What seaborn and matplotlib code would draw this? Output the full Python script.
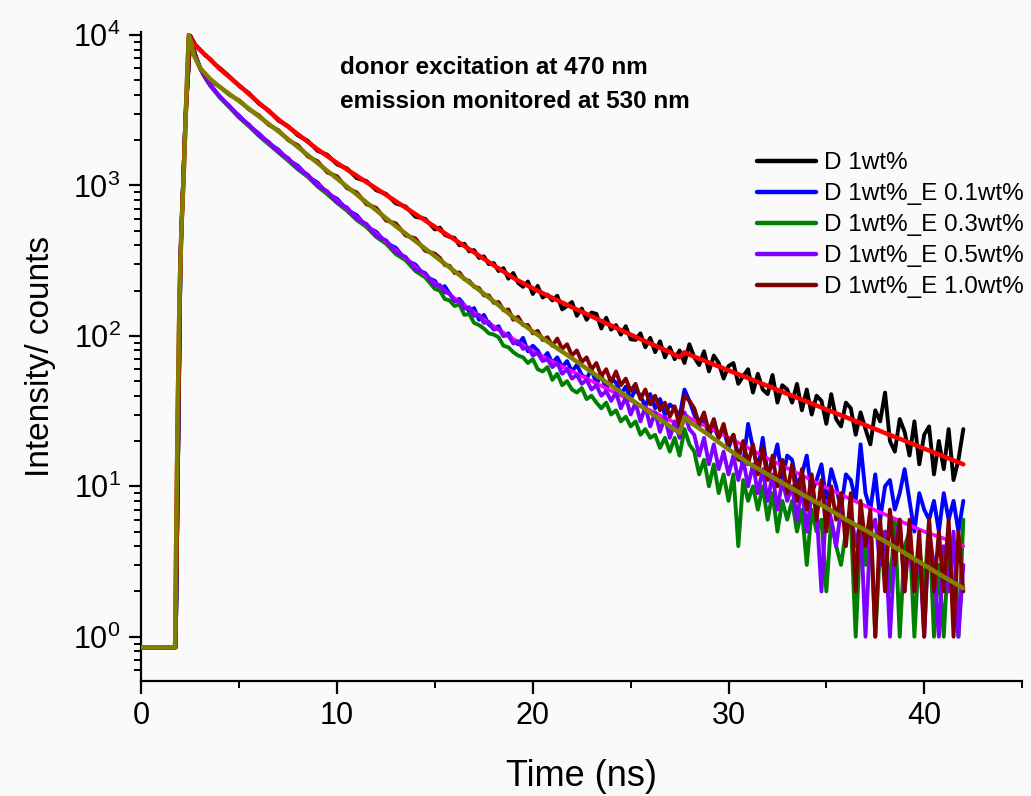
import numpy as np
import matplotlib
matplotlib.use("Agg")
import matplotlib.pyplot as plt
import seaborn as sns
from matplotlib.ticker import LogLocator, MultipleLocator, NullFormatter

# ---------------- data ----------------
t_data = np.concatenate([[0.0, 1.5],
                         np.arange(1.75, 4.01, 0.25),
                         np.arange(4.5, 15.01, 0.5),
                         np.arange(15.25, 42.01, 0.25)])

d_black = [0.85, 0.85, 0.85, 340, 2700, 9900, 8650, 8000, 7350, 6950, 6400, 6050,
           5300, 4580, 4110, 3500, 3160, 2700, 2480, 2150, 1980, 1700, 1600, 1380,
           1300, 1120, 1070, 930, 880, 760, 725, 620, 600, 510,
           525, 470, 455, 448, 400, 410, 365, 372, 330, 338, 300, 305,
           270, 282, 240, 262, 225, 212, 230, 190, 215, 180, 188, 172,
           185, 150, 158, 168, 136, 152, 128, 143, 140, 112, 132, 110,
           118, 102, 116, 95, 94, 104, 84, 97, 78, 92, 72, 84,
           70, 80, 66, 88, 72, 64, 79, 58, 74, 66, 52, 63,
           66, 48, 54, 60, 42, 56, 44, 41, 55, 36, 47, 44,
           36, 48, 32, 44, 30, 40, 37, 26, 41, 28, 25, 36,
           33, 22, 31, 24, 19, 32, 27, 42, 20, 17, 28, 23,
           16, 27, 14, 22, 25, 12, 20, 13, 24, 11, 15, 24]

d_blue = [0.85, 0.85, 0.85, 370, 2950, 9850, 7450, 6050, 5300, 4700, 4300, 3920,
          3330, 2910, 2490, 2220, 1910, 1730, 1480, 1350, 1150, 1045, 885, 815,
          690, 635, 532, 492, 415, 385, 320, 298, 248, 232,
          205, 214, 190, 172, 176, 160, 146, 153, 128, 138, 119, 112,
          116, 100, 104, 92, 88, 97, 79, 86, 80, 70, 77, 66,
          72, 62, 68, 58, 64, 55, 52, 60, 48, 55, 44, 52,
          49, 41, 46, 38, 44, 40, 34, 41, 33, 38, 30, 35,
          33, 29, 44, 37, 30, 25, 28, 22, 25, 21, 24, 18,
          22, 16, 14, 26, 18, 13, 21, 12, 14, 19, 11, 16,
          15, 10, 12, 16, 9, 11, 14, 8, 13, 10, 7, 12,
          11, 8, 19, 9, 7, 12, 6, 10, 11, 7, 9, 13,
          8, 5, 9, 7, 6, 8, 5, 9, 6, 8, 5, 8]

d_green = [0.85, 0.85, 0.85, 355, 2850, 9750, 7350, 5950, 5200, 4630, 4220, 3850,
           3300, 2820, 2470, 2140, 1880, 1660, 1460, 1280, 1140, 985, 875, 765,
           680, 590, 530, 455, 410, 350, 318, 270, 245, 205,
           200, 176, 172, 158, 162, 138, 140, 122, 118, 112, 104, 102,
           98, 86, 84, 78, 74, 72, 66, 70, 60, 58, 62, 51,
           56, 47, 50, 44, 42, 45, 38, 40, 36, 33, 36, 30,
           32, 27, 29, 25, 27, 22, 24, 21, 22, 18, 21, 17,
           21, 16, 24, 19, 17, 12, 15, 10, 14, 9, 12, 8,
           12, 4, 11, 8, 10, 7, 10, 6, 9, 5, 8, 6,
           8, 5, 7, 3, 7, 5, 6, 2, 6, 4, 3, 5,
           6, 1, 5, 3, 6, 1, 4, 5, 2, 6, 1, 4,
           5, 1, 4, 2, 6, 1, 3, 1, 4, 2, 1, 6]

d_purple = [0.85, 0.85, 0.85, 360, 2900, 9800, 7400, 6000, 5250, 4680, 4270, 3890,
            3380, 2850, 2540, 2160, 1950, 1670, 1520, 1290, 1180, 995, 915, 770,
            715, 600, 555, 462, 432, 360, 335, 278, 262, 216,
            218, 195, 192, 170, 172, 152, 155, 136, 138, 122, 124, 110,
            112, 100, 101, 89, 92, 82, 84, 74, 77, 68, 70, 62,
            66, 56, 60, 52, 55, 48, 51, 44, 47, 40, 43, 37,
            42, 33, 39, 30, 36, 27, 34, 25, 31, 23, 29, 21,
            27, 21, 31, 24, 22, 16, 21, 14, 19, 13, 17, 12,
            16, 11, 15, 10, 14, 9, 13, 8, 12, 7, 11, 8,
            10, 6, 10, 5, 9, 7, 2, 8, 6, 4, 7, 5,
            7, 4, 6, 1, 5, 6, 3, 5, 1, 4, 6, 2,
            5, 2, 4, 1, 5, 3, 1, 4, 2, 5, 1, 3]

d_brown = [0.85, 0.85, 0.85, 350, 2800, 9850, 7250, 6050, 5450, 5100, 4750, 4540,
           4000, 3680, 3200, 2930, 2530, 2330, 2000, 1850, 1560, 1450, 1220, 1150,
           960, 900, 750, 710, 585, 560, 465, 445, 368, 352,
           330, 296, 292, 262, 264, 238, 232, 212, 208, 186, 186, 166,
           168, 148, 150, 128, 134, 118, 118, 104, 108, 94, 98, 86,
           96, 82, 88, 74, 80, 67, 72, 60, 66, 54, 60, 49,
           58, 47, 52, 43, 48, 38, 44, 35, 40, 32, 36, 29,
           34, 25, 40, 37, 33, 26, 31, 23, 28, 21, 26, 19,
           22, 15, 20, 14, 19, 12, 18, 11, 16, 10, 15, 9,
           14, 8, 13, 7, 12, 6, 11, 5, 10, 6, 9, 4,
           9, 2, 8, 4, 7, 1, 6, 2, 7, 3, 6, 2,
           6, 2, 5, 1, 6, 2, 5, 2, 6, 1, 5, 2]

t_fit = [0.0, 1.72, 1.78, 1.85, 1.95, 2.05, 2.15, 2.3, 2.42, 2.7, 3.0, 3.5,
         4, 5, 6, 7, 8, 9, 10, 11, 12, 13, 14, 15, 16, 17, 18, 19, 20, 21,
         22, 23, 24, 25, 26, 27, 27.5, 27.75, 28, 29, 30, 31, 32, 33, 34, 35,
         36, 37, 38, 39, 40, 41, 42]

fit_red = [0.85, 0.85, 5, 30, 200, 550, 1100, 4000, 10000, 8700, 7940, 6920,
           5960, 4620, 3550, 2750, 2190, 1740, 1410, 1160, 955, 785, 646, 531,
           437, 359, 295, 243, 207, 179, 155, 135, 117, 102, 89, 78, 72, 78, 75,
           66.5, 59, 52.4, 46.5, 41.2, 36.6, 32.4, 28.8, 25.5, 22.6, 20.1, 17.8,
           15.8, 14.0]

fit_olive = [0.85, 0.85, 5, 30, 200, 550, 1100, 4000, 10000, 7240, 6030, 5130,
             4520, 3630, 2880, 2290, 1800, 1410, 1110, 871, 684, 537, 427, 339,
             269, 214, 170, 133, 107, 87, 71, 57.5, 46.8, 38, 30.9, 25.1, 22.6,
             28.8, 26.9, 21.9, 17.6, 14.3, 12.0, 10.1, 8.5, 7.2, 6.0, 5.1, 4.3,
             3.6, 3.0, 2.5, 2.1]

fit_magenta = [0.85, 0.85, 5, 30, 200, 550, 1100, 4000, 10000, 7410, 6030, 4680,
               3890, 2880, 2190, 1700, 1320, 1020, 794, 617, 479, 372, 288, 224,
               178, 143, 116, 95.5, 79.4, 67.6, 58.2, 50.1, 43.2, 37.2, 32.0,
               27.5, 25.7, 30.2, 28.5, 24.5, 21.1, 18.0, 15.3, 13.2, 11.4, 9.8,
               8.5, 7.4, 6.5, 5.7, 5.0, 4.5, 4.0]

labels = ["D 1wt%", "D 1wt%_E 0.1wt%", "D 1wt%_E 0.3wt%",
          "D 1wt%_E 0.5wt%", "D 1wt%_E 1.0wt%"]

x_ticks = [0, 10, 20, 30, 40]
annotation = "donor excitation at 470 nm\nemission monitored at 530 nm"

# ---------------- styling ----------------
sns.set_style("ticks")
plt.rcParams['font.family'] = ['Liberation Sans', 'DejaVu Sans']
plt.rcParams['mathtext.fontset'] = 'custom'
plt.rcParams['mathtext.rm'] = 'Liberation Sans'
plt.rcParams['text.color'] = 'black'

bg = '#fafafa'
fig = plt.figure(figsize=(10.31, 7.96), dpi=100, facecolor=bg)
ax = fig.add_axes([0.1372, 0.1449, 0.8541, 0.8150])
ax.set_facecolor(bg)

series = [(d_black, '#000000', 2), (d_blue, '#0000ff', 3), (d_green, '#008000', 4),
          (d_purple, '#8000ff', 6), (d_brown, '#800000', 7)]
handles = []
for (vals, col, z), lab in zip(series, labels):
    n = min(len(vals), len(t_data))
    sns.lineplot(x=t_data[:n], y=vals[:n], color=col, lw=2.8, ax=ax,
                 estimator=None, sort=False, label=lab, legend=False, zorder=z)
    handles.append(ax.lines[-1])

sns.lineplot(x=t_fit, y=fit_magenta, color='#ff00ff', lw=2.6, ax=ax,
             estimator=None, sort=False, legend=False, zorder=5)
sns.lineplot(x=t_fit, y=fit_red, color='#ff0000', lw=3.2, ax=ax,
             estimator=None, sort=False, legend=False, zorder=8)
sns.lineplot(x=t_fit, y=fit_olive, color='#808000', lw=3.2, ax=ax,
             estimator=None, sort=False, legend=False, zorder=9)

ax.set_yscale('log')
ax.set_xlim(0, 45)
ax.set_ylim(0.51, 10500)
ax.set_xticks(x_ticks)
ax.xaxis.set_minor_locator(MultipleLocator(5))
ax.yaxis.set_major_locator(LogLocator(base=10, numticks=10))
ax.yaxis.set_minor_locator(LogLocator(base=10, subs=np.arange(2, 10), numticks=20))
ax.yaxis.set_minor_formatter(NullFormatter())

for side in ['top', 'right']:
    ax.spines[side].set_visible(False)
for side in ['left', 'bottom']:
    ax.spines[side].set_linewidth(1.6)
    ax.spines[side].set_color('black')

ax.tick_params(which='major', direction='out', length=9, width=1.6,
               labelsize=22, colors='black', pad=6)
ax.tick_params(which='minor', direction='out', length=5, width=1.4, colors='black')

ax.set_xlabel("Time (ns)", fontsize=26, labelpad=20, color='black')
ax.set_ylabel("Intensity/ counts", fontsize=24, labelpad=12, color='black')

leg = fig.legend(handles=handles, labels=labels, loc='upper left',
                 bbox_to_anchor=(0.734, 0.809), frameon=False, fontsize=17.5,
                 handlelength=2.45, handletextpad=0.3, labelspacing=0.37,
                 borderpad=0, borderaxespad=0)
for h in leg.get_lines():
    h.set_linewidth(3.2)

fig.text(340 / 1031, 1 - 56 / 796, annotation, fontsize=17.5, fontweight='bold',
         va='top', ha='left', linespacing=1.6, color='black')

fig.savefig("out.png", dpi=100, facecolor=bg)
